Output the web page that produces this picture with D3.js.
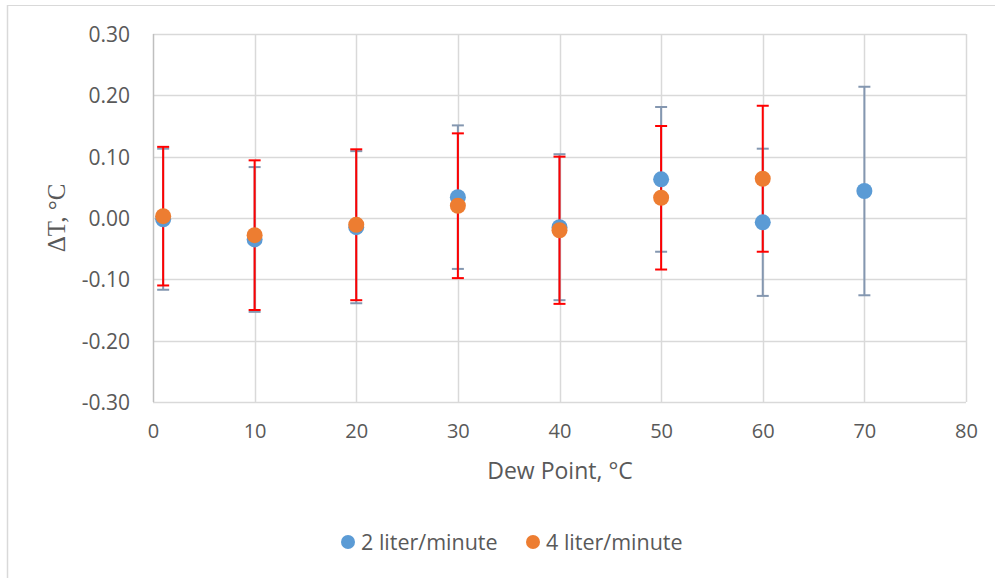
<!DOCTYPE html>
<html>
<head>
<meta charset="utf-8">
<script src="https://cdn.jsdelivr.net/npm/d3@7"></script>
<style>
  html, body { margin: 0; padding: 0; background: #fff; }
</style>
</head>
<body>
<svg id="chart" width="995" height="578"></svg>
<script>
// ---- data ----
const dewPoints = [1, 10, 20, 30, 40, 50, 60, 70];
const series2Lpm = [-0.002, -0.035, -0.015, 0.034, -0.015, 0.063, -0.007, 0.044];
const series2LpmErr = [0.115, 0.118, 0.124, 0.117, 0.119, 0.118, 0.120, 0.170];
const dewPoints4 = [1, 10, 20, 30, 40, 50, 60];
const series4Lpm = [0.003, -0.028, -0.011, 0.020, -0.020, 0.033, 0.064];
const series4LpmErr = [0.113, 0.122, 0.123, 0.118, 0.120, 0.117, 0.119];
const xTicks = [0, 10, 20, 30, 40, 50, 60, 70, 80];
const yTicks = [-0.30, -0.20, -0.10, 0.00, 0.10, 0.20, 0.30];
const seriesNames = ["2 liter/minute", "4 liter/minute"];
const seriesColors = ["#5b9bd5", "#ed7d31"];
const errColors = ["#8497b0", "#ff0000"];

(function () {
const svg = d3.select("#chart");
const sans = "'Open Sans', 'Liberation Sans', sans-serif";
const pL = 153, pR = 966, pT = 34, pB = 402;

const x = d3.scaleLinear().domain([0, 80]).range([pL, pR]);
const y = d3.scaleLinear().domain([-0.30, 0.30]).range([pB, pT]);

// outer border (top and left)
svg.append("line").attr("x1", 7).attr("x2", 995).attr("y1", 5.5).attr("y2", 5.5)
  .attr("stroke", "#d9d9d9").attr("stroke-width", 1);
svg.append("line").attr("x1", 7.5).attr("x2", 7.5).attr("y1", 5).attr("y2", 578)
  .attr("stroke", "#d9d9d9").attr("stroke-width", 1.5);

// gridlines
const g = svg.append("g");
g.selectAll(".hg").data(yTicks).join("line")
  .attr("x1", pL).attr("x2", pR)
  .attr("y1", d => Math.round(y(d)) + 0.5).attr("y2", d => Math.round(y(d)) + 0.5)
  .attr("stroke", "#d9d9d9").attr("stroke-width", 1.5);
g.selectAll(".vg").data(xTicks).join("line")
  .attr("y1", pT).attr("y2", pB)
  .attr("x1", d => Math.round(x(d)) + 0.5).attr("x2", d => Math.round(x(d)) + 0.5)
  .attr("stroke", d => d === 0 ? "#bfbfbf" : "#d9d9d9").attr("stroke-width", 1.5);

// y axis labels
const fmt = d3.format(".2f");
const yAxis = d3.axisLeft(y).tickValues(yTicks).tickSize(0).tickPadding(0)
  .tickFormat(d => fmt(d).replace("\u2212", "-"));
const ya = svg.append("g").attr("transform", `translate(130,0)`).call(yAxis);
ya.select(".domain").remove();
ya.selectAll("text").style("font-size", "21px").style("font-family", sans)
  .attr("fill", "#595959").attr("dy", "0.35em");

// x axis labels
const xAxis = d3.axisBottom(x).tickValues(xTicks).tickSize(0).tickPadding(0)
  .tickFormat(d3.format("d"));
const xa = svg.append("g").attr("transform", `translate(0,424)`).call(xAxis);
xa.select(".domain").remove();
xa.selectAll("text").style("font-size", "20px").style("font-family", sans)
  .attr("fill", "#595959").attr("dy", "0.71em");

// axis titles
svg.append("text").attr("x", 560).attr("y", 479).attr("text-anchor", "middle")
  .style("font-size", "23px").style("font-family", sans)
  .attr("fill", "#595959").text("Dew Point, °C");
svg.append("text")
  .attr("transform", "translate(65,218) rotate(-90)")
  .attr("text-anchor", "middle")
  .style("font-family", "'Liberation Serif', 'DejaVu Serif', serif")
  .style("font-size", "25px").attr("fill", "#595959").text("ΔT, °C");

// error bars
function errorBars(xs, vals, errs, color) {
  const eg = svg.append("g").attr("stroke", color).attr("stroke-width", 2).attr("fill", "none");
  xs.forEach((xv, i) => {
    const cx = x(xv), hi = y(vals[i] + errs[i]), lo = y(vals[i] - errs[i]);
    eg.append("line").attr("x1", cx).attr("x2", cx).attr("y1", hi).attr("y2", lo);
    eg.append("line").attr("x1", cx - 6).attr("x2", cx + 6).attr("y1", hi).attr("y2", hi);
    eg.append("line").attr("x1", cx - 6).attr("x2", cx + 6).attr("y1", lo).attr("y2", lo);
  });
}
errorBars(dewPoints, series2Lpm, series2LpmErr, errColors[0]);
errorBars(dewPoints4, series4Lpm, series4LpmErr, errColors[1]);

// markers
svg.append("g").selectAll("circle").data(dewPoints.map((d, i) => [d, series2Lpm[i]])).join("circle")
  .attr("cx", d => x(d[0])).attr("cy", d => y(d[1])).attr("r", 8).attr("fill", seriesColors[0]);
svg.append("g").selectAll("circle").data(dewPoints4.map((d, i) => [d, series4Lpm[i]])).join("circle")
  .attr("cx", d => x(d[0])).attr("cy", d => y(d[1])).attr("r", 8).attr("fill", seriesColors[1]);

// legend
const legendX = [348, 533];
seriesNames.forEach((name, i) => {
  svg.append("circle").attr("cx", legendX[i]).attr("cy", 542).attr("r", 7).attr("fill", seriesColors[i]);
  svg.append("text").attr("x", legendX[i] + 13).attr("y", 542).attr("dy", "0.35em")
    .style("font-size", "21.5px").style("font-family", sans)
    .attr("fill", "#595959").text(name);
});
})();
</script>
</body>
</html>
